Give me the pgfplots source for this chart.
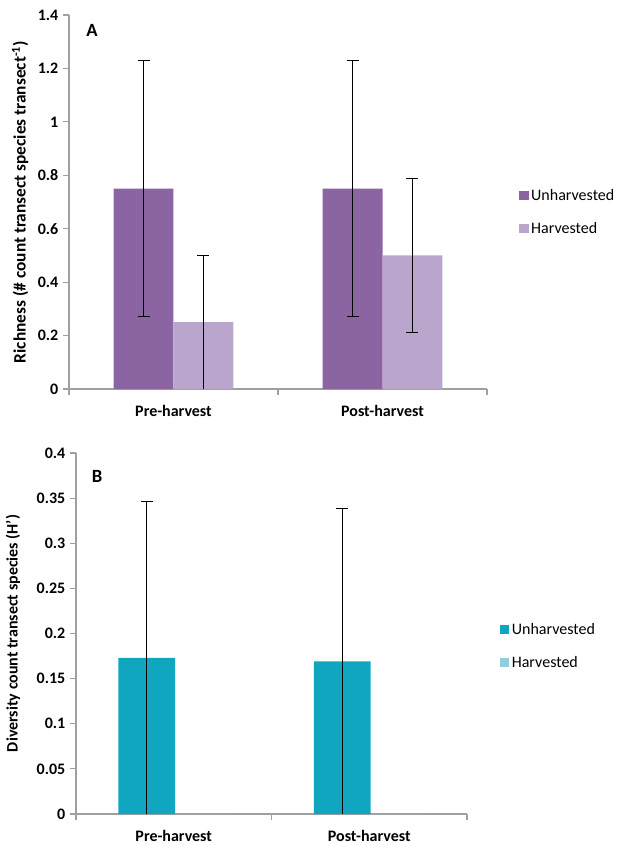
\documentclass[border=0pt]{standalone}
\usepackage{pgfplots}
\pgfplotsset{compat=1.18}
\usepackage{fontspec}
\setmainfont{Carlito}
\definecolor{dpurple}{RGB}{139,101,161}
\definecolor{lpurple}{RGB}{186,166,204}
\definecolor{teal}{RGB}{17,166,192}
\definecolor{lteal}{RGB}{147,205,221}
\definecolor{axisgray}{RGB}{160,160,160}
\pgfplotsset{
  common/.style={
    scale only axis,
    anchor=south west,
    axis lines*=left,
    axis line style={draw=axisgray, line width=0.9pt},
    tick style={draw=axisgray, line width=0.9pt},
    tick align=outside,
    major tick length=4.5pt,
    xmin=-0.5, xmax=1.5,
    xtick={-0.5,0.5,1.5}, xticklabels={,,},
    extra x ticks={0,1},
    extra x tick labels={Pre-harvest,Post-harvest},
    extra x tick style={major tick length=0pt, xticklabel style={yshift=-9pt}},
    ticklabel style={font=\bfseries\fontsize{12}{14}\selectfont},
    ylabel style={anchor=center, rotate=0},
    legend cell align=left,
    legend style={draw=none, fill=none, inner sep=0pt, anchor=west,
      font=\fontsize{12}{14}\selectfont, row sep=11pt},
    legend image code/.code={\draw[##1,/tikz/.cd,draw=none] (0pt,-3.4pt) rectangle (6.8pt,3.4pt);},
  },
  ebar/.style={forget plot, draw=none, mark=none,
    error bars/.cd, y dir=#1, y explicit,
    error bar style={draw=black, line width=0.75pt},
    error mark=|,
    error mark options={draw=black, mark size=4.5pt, line width=0.75pt}},
}
\begin{document}
\begin{tikzpicture}[x=1pt,y=1pt]
\path[use as bounding box] (0,0) rectangle (465.75,-634.5);
% Panel A
\begin{axis}[common,
  at={(51.75pt,-291.75pt)},
  width=313.5pt, height=280.5pt,
  ymin=0, ymax=1.4,
  ytick={0,0.2,0.4,0.6,0.8,1,1.2,1.4},
  yticklabels={0,0.2,0.4,0.6,0.8,1,1.2,1.4},
  ylabel={Richness (\# count transect species transect\textsuperscript{-1})},
  ylabel style={at={(rel axis cs:-0.117,0.5)}, font=\bfseries\fontsize{13}{15}\selectfont},
  legend style={at={(rel axis cs:1.077,0.473)}},
]
\addplot[ybar, bar width=0.287, bar shift=0pt, fill=dpurple, draw=none]
  coordinates {(-0.1435,0.75) (0.8565,0.75)};
\addlegendentry{Unharvested}
\addplot[ybar, bar width=0.287, bar shift=0pt, fill=lpurple, draw=none]
  coordinates {(0.1435,0.25) (1.1435,0.5)};
\addlegendentry{Harvested}
\addplot[ebar=both] coordinates {(-0.1435,0.75) +- (0,0.48) (0.8565,0.75) +- (0,0.48) (1.1435,0.5) +- (0,0.288)};
\addplot[ebar=plus] coordinates {(0.1435,0) +- (0,0.5)};
\node[font=\bfseries\fontsize{14}{16}\selectfont] at (rel axis cs:0.055,0.96) {A};
\end{axis}
% Panel B
\begin{axis}[common,
  at={(57pt,-610.5pt)},
  width=293.25pt, height=270.75pt,
  ymin=0, ymax=0.4,
  ytick={0,0.05,0.1,0.15,0.2,0.25,0.3,0.35,0.4},
  yticklabels={0,0.05,0.1,0.15,0.2,0.25,0.3,0.35,0.4},
  ylabel={Diversity count transect species (H')},
  ylabel style={at={(rel axis cs:-0.161,0.5)}, font=\bfseries\fontsize{12}{14}\selectfont},
  legend style={at={(rel axis cs:1.084,0.465)}},
]
\addplot[ybar, bar width=0.29, bar shift=0pt, fill=teal, draw=none]
  coordinates {(-0.138,0.173) (0.862,0.169)};
\addlegendentry{Unharvested}
\addplot[ybar, bar width=0.29, bar shift=0pt, fill=lteal, draw=none]
  coordinates {(0.152,0) (1.152,0)};
\addlegendentry{Harvested}
\addplot[ebar=plus] coordinates {(-0.138,0) +- (0,0.346) (0.862,0) +- (0,0.338)};
\node[font=\bfseries\fontsize{14}{16}\selectfont] at (rel axis cs:0.054,0.936) {B};
\end{axis}
\end{tikzpicture}
\end{document}
